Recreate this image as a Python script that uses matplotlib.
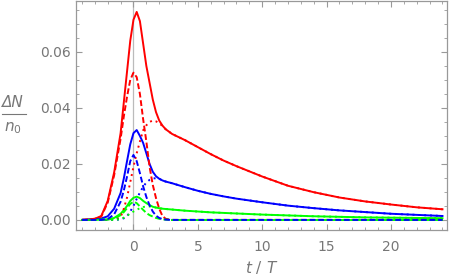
import matplotlib.pyplot as plt
from matplotlib.ticker import MultipleLocator, FormatStrFormatter
from matplotlib.lines import Line2D

# time grid (t / T)
t = [-4, -3, -2.5, -2, -1.5, -1, -0.75, -0.5, -0.25, 0, 0.25, 0.5, 0.75, 1, 1.25,
     1.5, 1.75, 2, 2.25, 2.5, 3, 4, 5, 6, 7, 8, 10, 12, 14, 16, 18, 20, 22, 24]

red_total = [0, 0.0004, 0.0014, 0.0068, 0.017, 0.031, 0.042, 0.053, 0.064, 0.0715, 0.0743,
             0.071, 0.063, 0.055, 0.049, 0.043, 0.0385, 0.0355, 0.0337, 0.0324, 0.0307,
             0.0285, 0.026, 0.0235, 0.0212, 0.0192, 0.0155, 0.0122, 0.0099, 0.008, 0.0066,
             0.0055, 0.0045, 0.0038]
red_peak = [0, 0.0004, 0.0012, 0.0062, 0.016, 0.029, 0.037, 0.044, 0.050, 0.0526, 0.051,
            0.045, 0.036, 0.028, 0.019, 0.0125, 0.0078, 0.004, 0.0014, 0.0004, 0,
            0, 0, 0, 0, 0, 0, 0, 0, 0, 0, 0, 0, 0]
red_tail = [0, 0, 0, 0, 0.0002, 0.001, 0.004, 0.008, 0.0135, 0.019, 0.0238, 0.028, 0.032,
            0.0338, 0.035, 0.0355, 0.0352, 0.0346, 0.0335, 0.0324, 0.0307,
            0.0285, 0.026, 0.0235, 0.0212, 0.0192, 0.0155, 0.0122, 0.0099, 0.008, 0.0066,
            0.0055, 0.0045, 0.0038]

blue_total = [0, 0.0002, 0.0005, 0.0013, 0.004, 0.0096, 0.0148, 0.021, 0.027, 0.031, 0.0321,
              0.030, 0.0275, 0.0238, 0.020, 0.0172, 0.0156, 0.0147, 0.0141, 0.0137, 0.0131,
              0.0117, 0.0104, 0.0093, 0.0084, 0.0076, 0.0063, 0.0051, 0.0042, 0.0034, 0.0028,
              0.0022, 0.0018, 0.0014]
blue_peak = [0, 0, 0, 0.0003, 0.002, 0.0065, 0.0105, 0.0155, 0.021, 0.0232, 0.021, 0.0167,
             0.012, 0.0082, 0.0052, 0.003, 0.0015, 0.0007, 0.0003, 0.0001, 0,
             0, 0, 0, 0, 0, 0, 0, 0, 0, 0, 0, 0, 0]
blue_tail = [0, 0, 0, 0, 0, 0.0002, 0.0006, 0.0013, 0.003, 0.005, 0.0075, 0.0098, 0.0118,
             0.0134, 0.0143, 0.0148, 0.0149, 0.0147, 0.0141, 0.0137, 0.0131,
             0.0117, 0.0104, 0.0093, 0.0084, 0.0076, 0.0063, 0.0051, 0.0042, 0.0034, 0.0028,
             0.0022, 0.0018, 0.0014]

green_total = [0, 0, 0.0001, 0.0002, 0.0007, 0.0022, 0.0035, 0.005, 0.0068, 0.0079, 0.0083,
               0.0078, 0.0068, 0.006, 0.0053, 0.0047, 0.0044, 0.0042, 0.004, 0.0039, 0.0037,
               0.0033, 0.003, 0.0027, 0.0025, 0.0023, 0.0019, 0.0016, 0.0013, 0.0011, 0.0009,
               0.0008, 0.0007, 0.0006]
green_peak = [0, 0, 0, 0.0001, 0.0005, 0.0017, 0.0028, 0.0042, 0.0057, 0.0065, 0.006, 0.0048,
              0.0036, 0.0025, 0.0017, 0.0012, 0.0007, 0.0004, 0.0002, 0.0001, 0,
              0, 0, 0, 0, 0, 0, 0, 0, 0, 0, 0, 0, 0]
green_tail = [0, 0, 0, 0, 0, 0.0003, 0.0008, 0.0015, 0.0023, 0.003, 0.0036, 0.0042, 0.0046,
              0.0048, 0.0048, 0.0047, 0.0044, 0.0042, 0.004, 0.0039, 0.0037,
              0.0033, 0.003, 0.0027, 0.0025, 0.0023, 0.0019, 0.0016, 0.0013, 0.0011, 0.0009,
              0.0008, 0.0007, 0.0006]

gray = "#777777"
fig = plt.figure(figsize=(4.5, 2.76), dpi=100)
ax = fig.add_axes([0.169, 0.1667, 0.824, 0.8297])

ax.axvline(0, color="#bbbbbb", lw=0.9, zorder=0)

lw = 1.4
dash = (0, (3, 1.4))
dot = (0, (1, 2))
ax.plot(t, red_total, color="red", lw=lw)
ax.plot(t, blue_total, color="blue", lw=lw)
ax.plot(t, green_total, color="#00ff00", lw=lw)
ax.plot(t, red_tail, color="red", lw=lw, ls=dot)
ax.plot(t, blue_tail, color="blue", lw=lw, ls=dot)
ax.plot(t, green_tail, color="#00ff00", lw=lw, ls=dot)
ax.plot(t, red_peak, color="red", lw=lw, ls=dash)
ax.plot(t, green_peak, color="#00ff00", lw=lw, ls=dash)
# along zero the green dashes fill the gaps of the blue ones
ax.plot(t[20:], green_peak[20:], color="#00ff00", lw=lw)
ax.plot(t, blue_peak, color="blue", lw=lw, ls=dash)

ax.set_xlim(-4.46, 24.34)
ax.set_ylim(-0.0036, 0.0782)
ax.xaxis.set_major_locator(MultipleLocator(5))
ax.xaxis.set_minor_locator(MultipleLocator(1))
ax.yaxis.set_major_locator(MultipleLocator(0.02))
ax.yaxis.set_minor_locator(MultipleLocator(0.005))
ax.yaxis.set_major_formatter(FormatStrFormatter("%.2f"))

for s in ax.spines.values():
    s.set_color("#999999")
    s.set_linewidth(0.9)
ax.tick_params(which="both", direction="in", top=True, right=True, colors="#999999",
               labelcolor=gray, labelsize=10)
ax.tick_params(which="major", length=4.5, width=0.8)
ax.tick_params(which="minor", length=2.5, width=0.6)
ax.tick_params(axis="x", pad=7)
ax.tick_params(axis="y", pad=4)

ax.set_xlabel(r"$t\ /\ T$", color=gray, fontsize=11, labelpad=4)

# fraction label on the y axis
fig.text(0.028, 0.63, "ΔN", color=gray, fontsize=11, style="italic", ha="center", va="center")
fig.add_artist(Line2D([0.004, 0.058], [0.587, 0.587], transform=fig.transFigure,
                      color=gray, lw=0.8))
fig.text(0.029, 0.535, r"$n_0$", color=gray, fontsize=11, ha="center", va="center")

fig.savefig("out.png", dpi=100)
